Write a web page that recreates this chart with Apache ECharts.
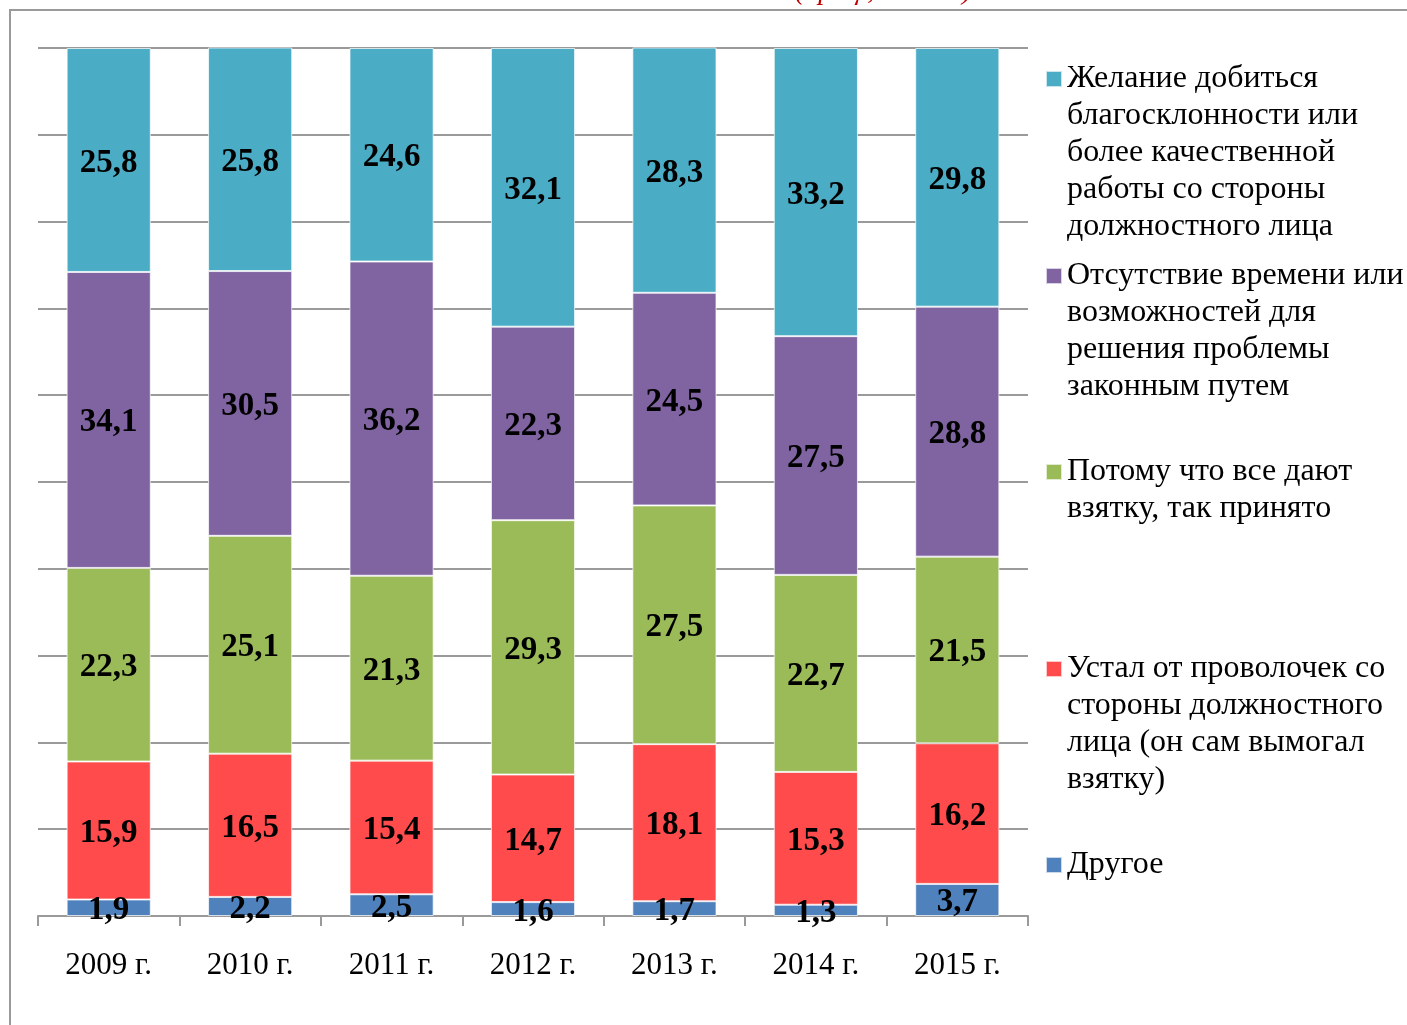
<!DOCTYPE html>
<html>
<head>
<meta charset="utf-8">
<script src="https://cdn.jsdelivr.net/npm/echarts@6/dist/echarts.min.js"></script>
<style>
html,body{margin:0;padding:0;background:#fff;}
#chart{width:1407px;height:1025px;}
</style>
</head>
<body>
<div id="chart"></div>
<script>
// ---- data ----
const years = ['2009 г.', '2010 г.', '2011 г.', '2012 г.', '2013 г.', '2014 г.', '2015 г.'];
const other   = [1.9, 2.2, 2.5, 1.6, 1.7, 1.3, 3.7];
const tired   = [15.9, 16.5, 15.4, 14.7, 18.1, 15.3, 16.2];
const everyone= [22.3, 25.1, 21.3, 29.3, 27.5, 22.7, 21.5];
const noTime  = [34.1, 30.5, 36.2, 22.3, 24.5, 27.5, 28.8];
const favor   = [25.8, 25.8, 24.6, 32.1, 28.3, 33.2, 29.8];

const names = [
  'Другое',
  'Устал от проволочек со стороны должностного лица (он сам вымогал взятку)',
  'Потому что все дают взятку, так принято',
  'Отсутствие времени или возможностей для решения проблемы законным путем',
  'Желание добиться благосклонности или более качественной работы со стороны должностного лица'
];
const legendLines = {
  [names[4]]: ['Желание добиться', 'благосклонности или', 'более качественной', 'работы со стороны', 'должностного лица'],
  [names[3]]: ['Отсутствие времени или', 'возможностей для', 'решения проблемы', 'законным путем'],
  [names[2]]: ['Потому что все дают', 'взятку, так принято'],
  [names[1]]: ['Устал от проволочек со', 'стороны должностного', 'лица (он сам вымогал', 'взятку)'],
  [names[0]]: ['Другое']
};
const values = [other, tired, everyone, noTime, favor];
const colors = ['#4F81BD', '#FF4B4B', '#9BBB59', '#8064A2', '#4BACC6'];

const serif = '"Liberation Serif", "DejaVu Serif", serif';
const LH = 37;
const iconCenters = {
  [names[4]]: 79, [names[3]]: 276, [names[2]]: 472, [names[1]]: 669, [names[0]]: 865
};

const legends = names.slice().reverse().map(function (nm) {
  const n = legendLines[nm].length;
  return {
    data: [nm],
    left: 1045,
    top: iconCenters[nm] - (2 * n - 1) * LH / 2,
    padding: 0,
    itemWidth: 16,
    itemHeight: 16,
    icon: 'rect',
    selectedMode: false,
    formatter: function (name) {
      const lines = legendLines[name];
      const pad = [];
      for (let k = 0; k < lines.length - 1; k++) pad.push(' ');
      return pad.concat(lines).join('\n');
    },
    textStyle: {
      fontFamily: serif,
      fontSize: 32,
      lineHeight: LH,
      color: '#000'
    }
  };
});

const series = names.map(function (nm, i) {
  return {
    name: nm,
    type: 'bar',
    stack: 'total',
    barWidth: '59.5%',
    data: values[i],
    itemStyle: { color: colors[i], borderColor: 'rgba(255,255,255,0.7)', borderWidth: 1 },
    label: {
      show: true,
      position: 'inside',
      offset: [0, 3],
      fontFamily: serif,
      fontWeight: 'bold',
      fontSize: 33,
      color: '#000',
      formatter: function (p) { return String(p.value).replace('.', ','); }
    }
  };
});

const chart = echarts.init(document.getElementById('chart'), null, { renderer: 'canvas' });
chart.setOption({
  backgroundColor: '#fff',
  animation: false,
  color: colors,
  graphic: [
    {
      type: 'rect',
      shape: { x: 10, y: 10, width: 1500, height: 1100 },
      style: { fill: 'none', stroke: '#9a9a9a', lineWidth: 2 },
      z: -10
    },
    {
      type: 'text',
      x: 795,
      y: 6,
      style: {
        text: '(проц., 2015 г.)',
        fontFamily: serif,
        fontStyle: 'italic',
        fontSize: 28,
        fill: '#c00000',
        verticalAlign: 'bottom'
      }
    }
  ],
  legend: legends,
  grid: { left: 38, right: 379, top: 48, bottom: 109, containLabel: false },
  xAxis: {
    type: 'category',
    data: years,
    axisLine: { lineStyle: { color: '#9a9a9a', width: 2 } },
    axisTick: { show: true, length: 10, lineStyle: { color: '#9a9a9a', width: 2 } },
    axisLabel: { fontFamily: serif, fontSize: 31, color: '#000', margin: 34 }
  },
  yAxis: {
    type: 'value',
    min: 0,
    max: 100,
    interval: 10,
    axisLine: { show: false },
    axisTick: { show: false },
    axisLabel: { show: false },
    splitLine: { lineStyle: { color: '#9a9a9a', width: 2 } }
  },
  series: series
});
</script>
</body>
</html>
